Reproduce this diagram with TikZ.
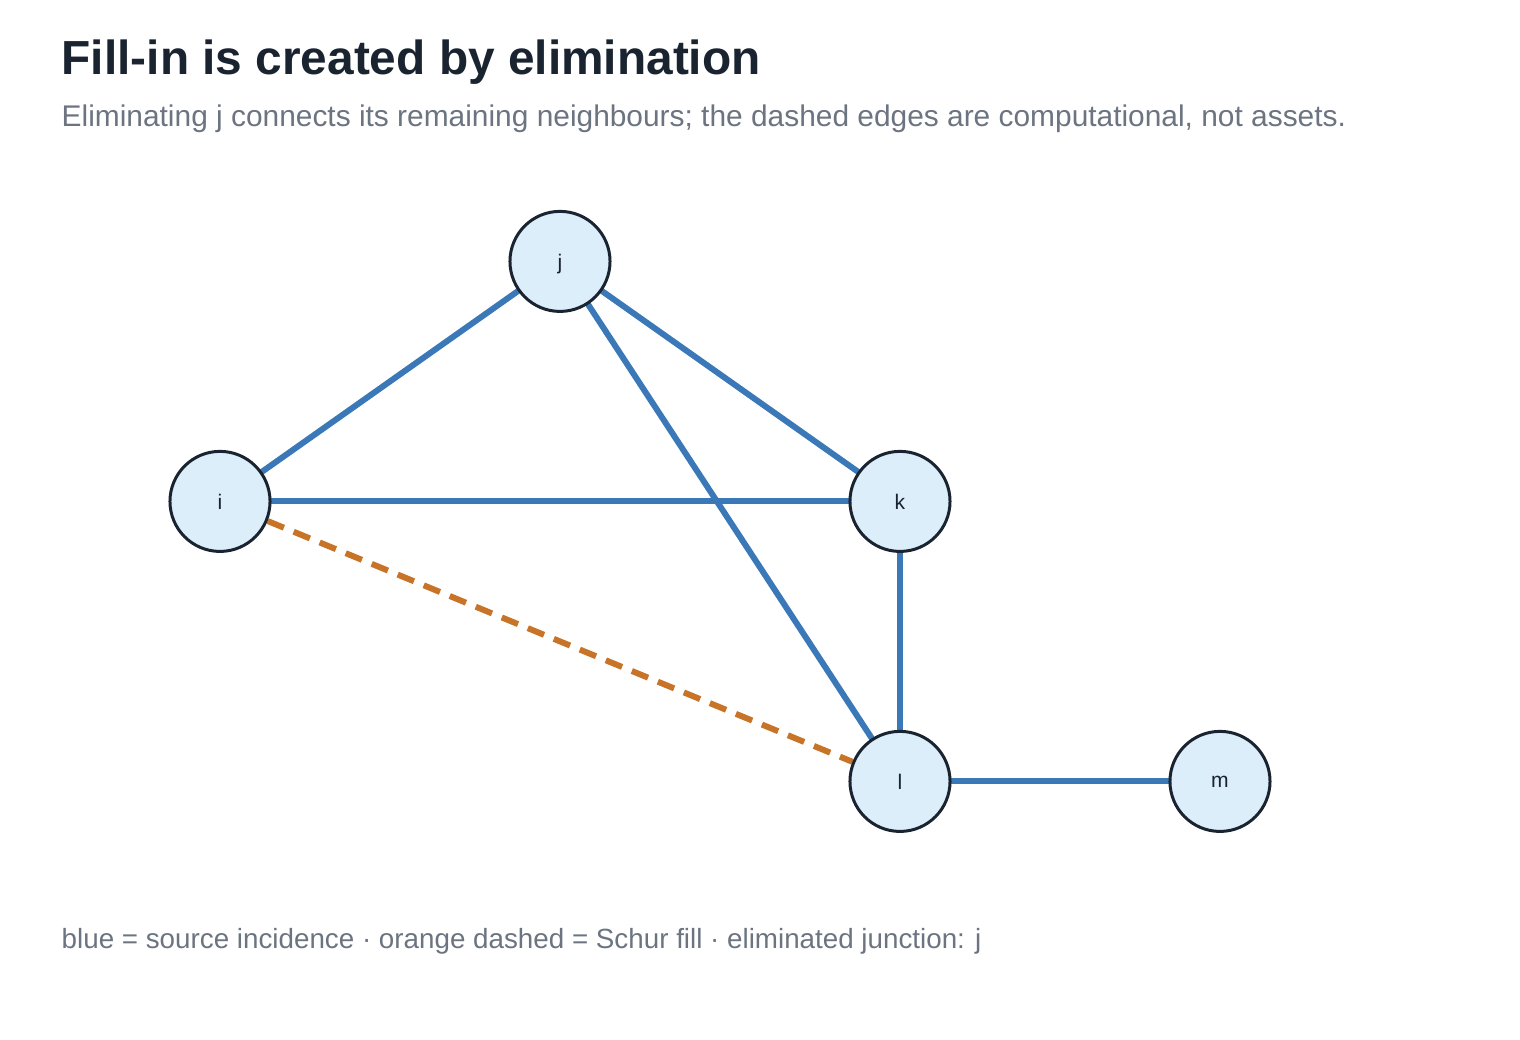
\documentclass[tikz,border=0pt]{standalone}
\usepackage{fontspec}
\setmainfont{Liberation Sans}
\pgfdeclarelayer{bg}
\pgfsetlayers{bg,main}
\begin{document}
\begin{tikzpicture}[x=0.01cm,y=-0.01cm,
  nd/.style={circle,draw=ink,fill=nodefill,line width=0.85pt,minimum size=1cm,inner sep=0pt,font=\fontsize{6}{7}\selectfont,text=ink,text depth=0pt,yshift=-0.4pt},
  ed/.style={draw=eblue,line width=1.7pt},
  fillin/.style={draw=eorange,line width=1.7pt,dash pattern=on 5pt off 3pt}]
\definecolor{ink}{HTML}{1A2330}
\definecolor{nodefill}{HTML}{DCEEF9}
\definecolor{eblue}{HTML}{3A78B8}
\definecolor{eorange}{HTML}{C87428}
\definecolor{gtxt}{HTML}{6B7480}
\useasboundingbox (0,0) rectangle (1520,1040);
\node[anchor=base west,inner sep=0pt,font=\bfseries\fontsize{13.6}{15}\selectfont,text=ink] (title) at (61,75) {Fill-in is created by elimination};
\node[anchor=base west,inner sep=0pt,font=\fontsize{8.5}{10}\selectfont,text=gtxt] (sub) at (61,127) {Eliminating j connects its remaining neighbours; the dashed edges are computational, not assets.};
\node[anchor=base west,inner sep=0pt,font=\fontsize{7.9}{9}\selectfont,text=gtxt] (foot) at (61,949) {blue = source incidence · orange dashed = Schur fill · eliminated junction: j};
\node[nd] (j) at (560,260) {j};
\node[nd] (i) at (220,500) {i};
\node[nd] (k) at (900,500) {k};
\node[nd] (l) at (900,780) {l};
\node[nd] (m) at (1220,780) {m};
\begin{pgfonlayer}{bg}
\path[ed] (j.center) -- (i.center);
\path[ed] (j.center) -- (k.center);
\path[ed] (j.center) -- (l.center);
\path[ed] (i.center) -- (k.center);
\path[ed] (k.center) -- (l.center);
\path[ed] (l.center) -- (m.center);
\path[fillin] (i) -- (l);
\end{pgfonlayer}
\end{tikzpicture}
\end{document}
